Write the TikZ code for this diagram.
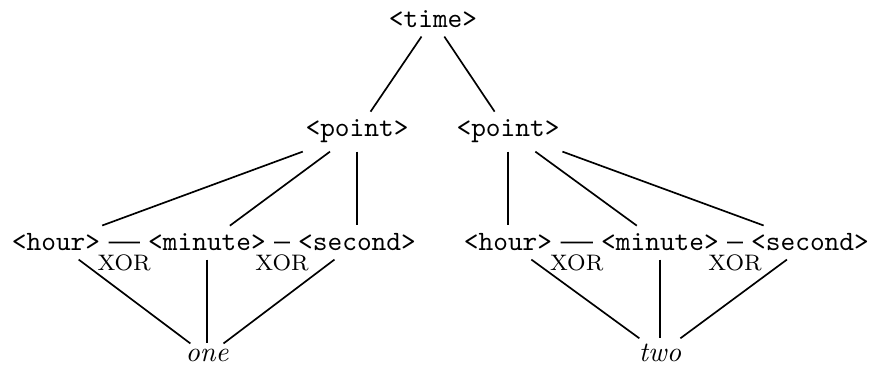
\documentclass[tikz,border=0pt]{standalone}
\begin{document}
\begin{tikzpicture}[x=0.3571pt,y=-0.3571pt,
  tok/.style={font=\ttfamily, anchor=base, inner sep=2.8pt},
  res/.style={font=\itshape, anchor=base, inner sep=2pt},
  xorlbl/.style={font=\footnotesize, below=3.2pt, inner sep=1pt},
  edge/.style={line width=0.6pt}]
\useasboundingbox (0,0) rectangle (874,368);
\node[tok] (time) at (433,28) {<time>};
\node[tok] (pL) at (357,137) {<point>};
\node[tok] (pR) at (508,137) {<point>};
\node[tok] (hL) at (56,251) {<hour>};
\node[tok] (mL) at (207,251) {<minute>};
\node[tok] (sL) at (357,251) {<second>};
\node[tok] (hR) at (508,251) {<hour>};
\node[tok] (mR) at (660,251) {<minute>};
\node[tok] (sR) at (810,251) {<second>};
\node[res] (one) at (207,362) {one};
\node[res] (two) at (660,362) {two};
\draw[edge] (time) -- (pL);
\draw[edge] (time) -- (pR);
\draw[edge] (pL) -- (hL);
\draw[edge] (pL) -- (mL);
\draw[edge] (pL) -- (sL);
\draw[edge] (pR) -- (hR);
\draw[edge] (pR) -- (mR);
\draw[edge] (pR) -- (sR);
\draw[edge] (hL) -- node[xorlbl] (x1) {XOR} (mL);
\draw[edge] (mL) -- node[xorlbl] (x2) {XOR} (sL);
\draw[edge] (hR) -- node[xorlbl] (x3) {XOR} (mR);
\draw[edge] (mR) -- node[xorlbl] (x4) {XOR} (sR);
\draw[edge] (hL) -- (one);
\draw[edge] (mL) -- (one);
\draw[edge] (sL) -- (one);
\draw[edge] (hR) -- (two);
\draw[edge] (mR) -- (two);
\draw[edge] (sR) -- (two);
\end{tikzpicture}
\end{document}
